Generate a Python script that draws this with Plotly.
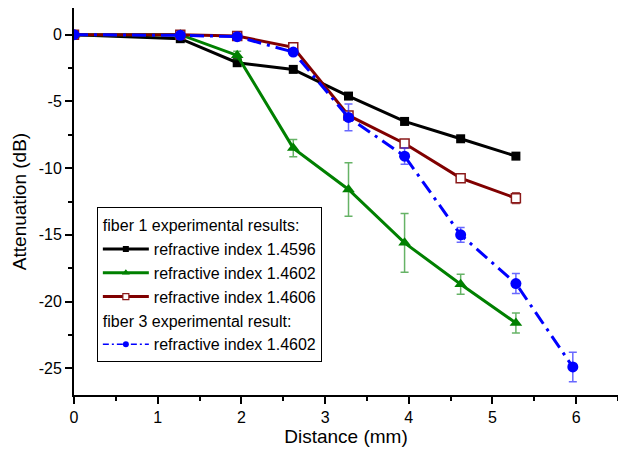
import plotly.graph_objects as go

# Data
x_f1 = [0, 1.27, 1.95, 2.62, 3.28, 3.95, 4.62, 5.28]
x_f3 = [0, 1.27, 1.95, 2.62, 3.28, 3.95, 4.62, 5.28, 5.96]

y_14596 = [0, -0.3, -2.1, -2.6, -4.6, -6.5, -7.8, -9.1]

y_14602 = [0, 0, -1.55, -8.5, -11.6, -15.6, -18.7, -21.6]
e_14602 = [0, 0, 0.3, 0.65, 2.0, 2.2, 0.75, 0.75]

y_14606 = [0, 0, -0.1, -0.95, -6.05, -8.15, -10.75, -12.25]
e_14606 = [0, 0, 0, 0.25, 0.3, 0.25, 0.1, 0.4]

y_f3 = [0, -0.05, -0.15, -1.3, -6.2, -9.1, -15.0, -18.65, -24.9]
e_f3 = [0, 0, 0, 0.2, 1.0, 0.6, 0.55, 0.75, 1.1]

x_ticks = [0, 1, 2, 3, 4, 5, 6]
y_ticks = [0, -5, -10, -15, -20, -25]

names = ["refractive index 1.4596", "refractive index 1.4602",
         "refractive index 1.4606", "refractive index 1.4602"]

FONT = "Liberation Sans, Arial, sans-serif"
BLUE_DASH = "14px,6px,3px,6px"

fig = go.Figure()

# data traces
fig.add_trace(go.Scatter(
    x=x_f1, y=y_14596, mode="lines+markers", showlegend=False,
    line=dict(color="black", width=3),
    marker=dict(symbol="square", size=9, color="black"),
))
fig.add_trace(go.Scatter(
    x=x_f1, y=y_14602, mode="lines+markers", showlegend=False,
    line=dict(color="#008000", width=3),
    marker=dict(symbol="triangle-up", size=11, color="#008000"),
    error_y=dict(type="data", array=e_14602, color="rgba(0,128,0,0.6)", thickness=1.5, width=4),
))
fig.add_trace(go.Scatter(
    x=x_f1, y=y_14606, mode="lines+markers", showlegend=False,
    line=dict(color="#800000", width=3),
    marker=dict(symbol="square", size=9, color="white", line=dict(color="#8B1a1a", width=1.5)),
    error_y=dict(type="data", array=e_14606, color="rgba(139,26,26,0.8)", thickness=1.5, width=4),
))
fig.add_trace(go.Scatter(
    x=x_f3, y=y_f3, mode="lines+markers", showlegend=False,
    line=dict(color="#0000FF", width=3, dash=BLUE_DASH),
    marker=dict(symbol="circle", size=11, color="#0000FF"),
    error_y=dict(type="data", array=e_f3, color="rgba(40,40,255,0.7)", thickness=1.5, width=4),
))

# legend-only entries (smaller symbols as in the reference legend)
grp_title_font = dict(size=16, color="black")
fig.add_trace(go.Scatter(
    x=[None], y=[None], mode="lines+markers", name=names[0],
    legendgroup="f1", legendgrouptitle=dict(text="fiber 1 experimental results:", font=grp_title_font),
    line=dict(color="black", width=3), marker=dict(symbol="square", size=6, color="black"),
))
fig.add_trace(go.Scatter(
    x=[None], y=[None], mode="lines+markers", name=names[1], legendgroup="f1",
    line=dict(color="#008000", width=3), marker=dict(symbol="triangle-up", size=7, color="#008000"),
))
fig.add_trace(go.Scatter(
    x=[None], y=[None], mode="lines+markers", name=names[2], legendgroup="f1",
    line=dict(color="#800000", width=3),
    marker=dict(symbol="square", size=6, color="white", line=dict(color="#8B1a1a", width=1.2)),
))
fig.add_trace(go.Scatter(
    x=[None], y=[None], mode="lines+markers", name=names[3],
    legendgroup="f3", legendgrouptitle=dict(text="fiber 3 experimental result:", font=grp_title_font),
    line=dict(color="#0000FF", width=1.5, dash="6px,3px,2px,3px"), marker=dict(symbol="circle", size=6, color="#0000FF"),
))

fig.update_layout(
    width=618, height=454,
    margin=dict(l=74, r=0, t=8, b=59),
    plot_bgcolor="white", paper_bgcolor="white",
    font=dict(family=FONT, size=15, color="black"),
    legend=dict(
        x=0.042, y=0.485, xanchor="left", yanchor="top",
        bordercolor="black", borderwidth=1, bgcolor="white",
        font=dict(size=16, color="black"), tracegroupgap=0,
        itemwidth=46, groupclick="toggleitem",
    ),
    showlegend=True,
)

fig.update_xaxes(
    range=[0, 6.5], tickvals=x_ticks, ticktext=[str(v) for v in x_ticks],
    showgrid=False, zeroline=False, showline=True, linecolor="black", linewidth=2,
    ticks="outside", ticklen=7, tickwidth=1.5, tickcolor="black",
    minor=dict(tickvals=[0.5, 1.5, 2.5, 3.5, 4.5, 5.5, 6.5], ticks="outside", ticklen=4, tickcolor="black", tickwidth=1.5),
    title=dict(text="Distance (mm)", font=dict(size=19), standoff=3),
    tickfont=dict(size=16),
)
fig.update_yaxes(
    range=[-27, 2], tickvals=y_ticks, ticktext=[str(v) for v in y_ticks],
    showgrid=False, zeroline=False, showline=True, linecolor="black", linewidth=2,
    ticks="outside", ticklen=7, tickwidth=1.5, tickcolor="black",
    minor=dict(tickvals=[-2.5, -7.5, -12.5, -17.5, -22.5], ticks="outside", ticklen=4, tickcolor="black", tickwidth=1.5),
    title=dict(text="Attenuation (dB)", font=dict(size=19), standoff=7),
    tickfont=dict(size=16),
)

fig.write_html("out.html")
